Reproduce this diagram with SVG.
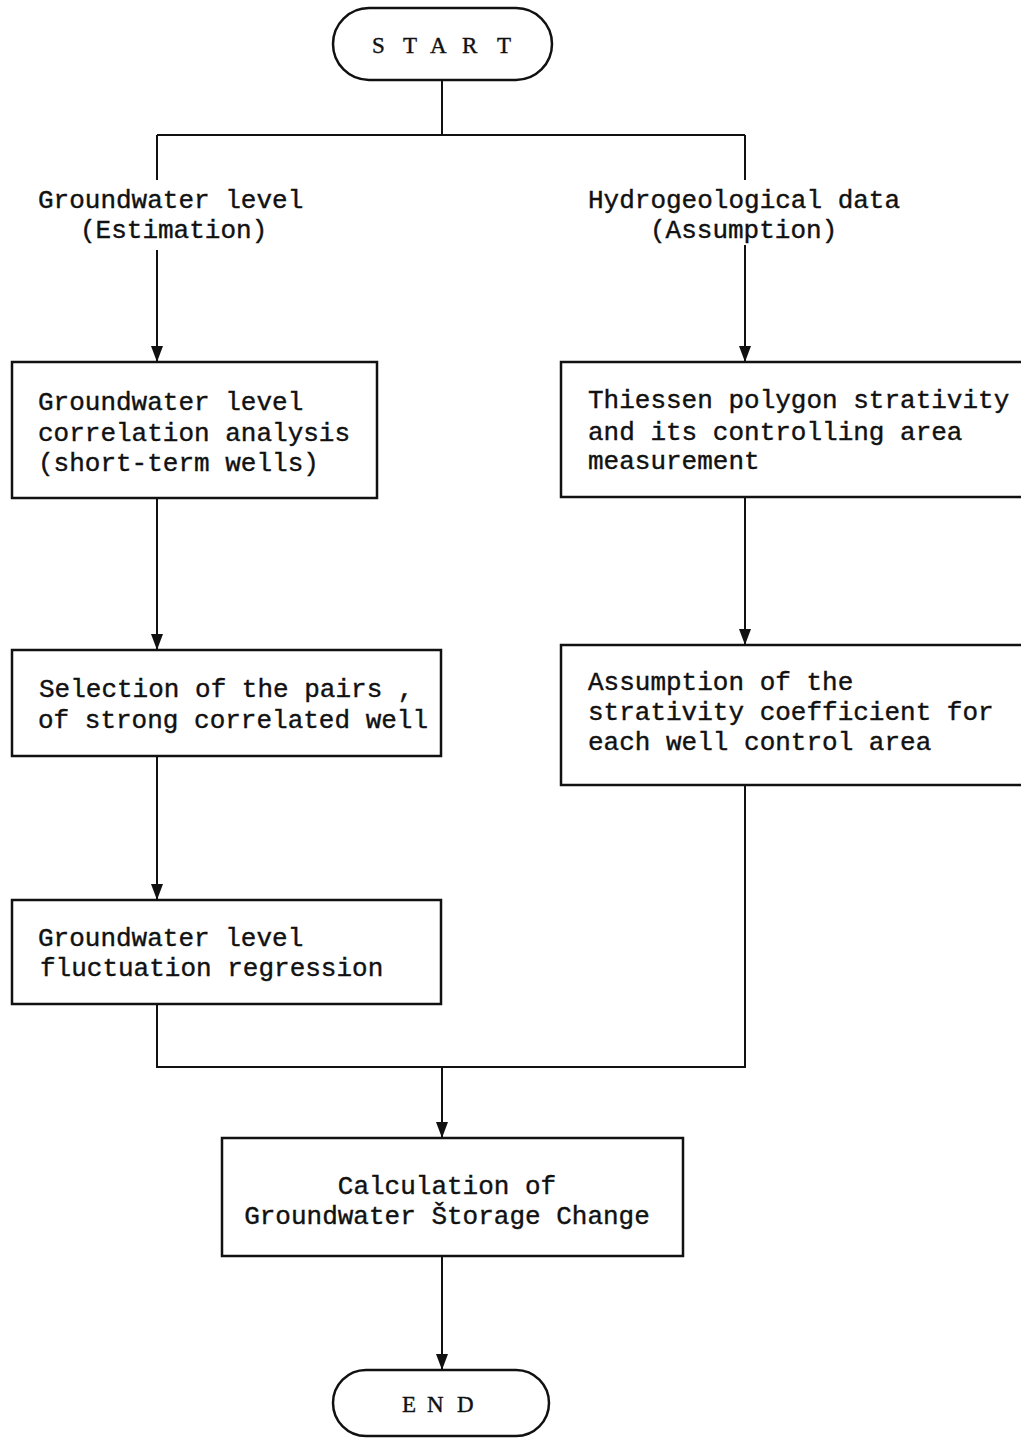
<svg xmlns="http://www.w3.org/2000/svg" width="1021" height="1439" viewBox="0 0 1021 1439">
<defs>
<marker id="arr" markerWidth="16" markerHeight="12" refX="16" refY="6" orient="auto" markerUnits="userSpaceOnUse" viewBox="0 0 16 12">
<path d="M0,0 L16,6 L0,12 Z" fill="#111"/>
</marker>
</defs>
<style>
.box{fill:#fff;stroke:#111;stroke-width:2.5}
.ln{fill:none;stroke:#111;stroke-width:2}
.t{font-family:"Liberation Mono","Courier New",monospace;font-size:26px;fill:#111;stroke:#111;stroke-width:0.4}
.s{font-family:"Liberation Serif","Times New Roman",serif;font-size:23px;fill:#111;stroke:#111;stroke-width:0.4}
</style>
<rect width="1021" height="1439" fill="#fff"/>
<g id="connectors">
<path class="ln" d="M442,80 V135 M157,135 H745 M157,135 V180 M745,135 V180"/>
<path class="ln" d="M157,250 V362" marker-end="url(#arr)"/>
<path class="ln" d="M745,245 V362" marker-end="url(#arr)"/>
<path class="ln" d="M157,498 V650" marker-end="url(#arr)"/>
<path class="ln" d="M745,497 V645" marker-end="url(#arr)"/>
<path class="ln" d="M157,756 V900" marker-end="url(#arr)"/>
<path class="ln" d="M157,1004 V1067 H745 V785"/>
<path class="ln" d="M442,1067 V1138" marker-end="url(#arr)"/>
<path class="ln" d="M442,1256 V1370" marker-end="url(#arr)"/>
</g>
<g id="start">
<rect class="box" x="333" y="8" width="219" height="72" rx="36" ry="36"/>
<text class="s" x="372 403 430 462 497" y="53">START</text>
</g>
<g id="label-left">
<text class="t" x="38" y="208">Groundwater level</text>
<text class="t" x="80" y="238">(Estimation)</text>
</g>
<g id="label-right">
<text class="t" x="588" y="208">Hydrogeological data</text>
<text class="t" x="650" y="238">(Assumption)</text>
</g>
<g id="box-corr">
<rect class="box" x="12" y="362" width="365" height="136"/>
<text class="t" x="38" y="410">Groundwater level</text>
<text class="t" x="38" y="441">correlation analysis</text>
<text class="t" x="38" y="471">(short-term wells)</text>
</g>
<g id="box-thiessen">
<rect class="box" x="561" y="362" width="470" height="135"/>
<text class="t" x="588" y="408">Thiessen polygon strativity</text>
<text class="t" x="588" y="440">and its controlling area</text>
<text class="t" x="588" y="469">measurement</text>
</g>
<g id="box-selection">
<rect class="box" x="12" y="650" width="429" height="106"/>
<text class="t" x="39" y="697">Selection of the pairs ,</text>
<text class="t" x="38" y="728">of strong correlated well</text>
</g>
<g id="box-assumption">
<rect class="box" x="561" y="645" width="470" height="140"/>
<text class="t" x="588" y="690">Assumption of the</text>
<text class="t" x="588" y="720">strativity coefficient for</text>
<text class="t" x="588" y="750">each well control area</text>
</g>
<g id="box-regression">
<rect class="box" x="12" y="900" width="429" height="104"/>
<text class="t" x="38" y="946">Groundwater level</text>
<text class="t" x="40" y="976">fluctuation regression</text>
</g>
<g id="box-calc">
<rect class="box" x="222" y="1138" width="461" height="118"/>
<text class="t" x="447" y="1194" text-anchor="middle">Calculation of</text>
<text class="t" x="447" y="1224" text-anchor="middle">Groundwater Štorage Change</text>
</g>
<g id="end">
<rect class="box" x="333" y="1370" width="216" height="66" rx="33" ry="33"/>
<text class="s" x="402 427 457" y="1412">END</text>
</g>
</svg>
